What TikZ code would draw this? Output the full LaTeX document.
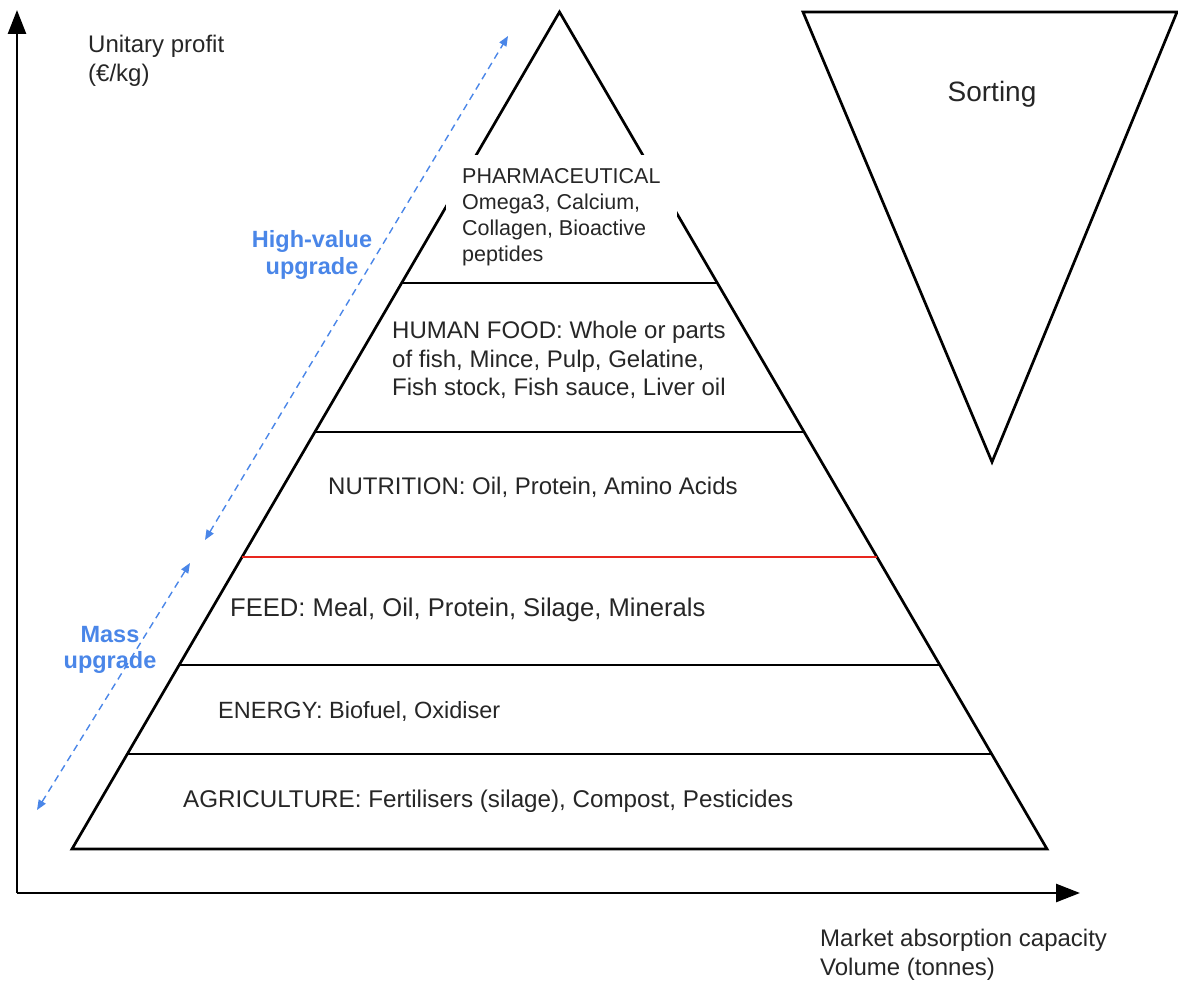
\documentclass[tikz,border=0pt]{standalone}
\usepackage{fontspec}
\setmainfont{Liberation Sans}
\usetikzlibrary{arrows.meta,calc}
\definecolor{upblue}{HTML}{4A86E8}
\definecolor{txt}{HTML}{262626}
\definecolor{cutred}{HTML}{E8261E}

\begin{document}
\begin{tikzpicture}[x=1pt,y=-1pt,
  edge/.style={line width=2.7pt, line join=miter},
  axis/.style={line width=2.7pt, -{Triangle[length=24pt,width=18pt]}},
  upgrade/.style={upblue, line width=1.4pt, dash pattern=on 7pt off 5pt,
    {Triangle[length=10pt,width=8pt]}-{Triangle[length=10pt,width=8pt]}},
  tier/.style={font=\fontsize{24}{28.5}\selectfont, text=txt, inner sep=0pt, anchor=base west},
  pharma/.style={font=\fontsize{21.5}{26}\selectfont, text=txt, fill=white, align=left,
    inner xsep=16pt, inner ysep=13pt, anchor=north west},
  axlabel/.style={font=\fontsize{24}{29}\selectfont, text=txt, inner sep=0pt, align=left, anchor=north west},
  updlabel/.style={font=\bfseries\fontsize{23.5}{26.5}\selectfont, text=upblue, inner sep=0pt, align=center},
]
\useasboundingbox (0,0) rectangle (1178,982);

% axes
\coordinate (origin) at (17,893);
\coordinate (ytip) at (17,10);
\coordinate (xtip) at (1080,893);
\draw[axis] (origin) -- (ytip);
\draw[axis] (origin) -- (xtip);

% pyramid outline
\coordinate (apex) at (559.5,12);
\coordinate (bl) at (72,849);
\coordinate (br) at (1047,849);
\draw[edge] (apex) -- (bl) -- (br) -- cycle;

% tier boundaries (fraction of the height from the apex)
\foreach \t/\nm in {0.3238/a, 0.5018/b, 0.6511/c, 0.7802/d, 0.8865/e}{
  \coordinate (L\nm) at ($(apex)!\t!(bl)$);
  \coordinate (R\nm) at ($(apex)!\t!(br)$);
}
\draw[edge] (La) -- (Ra);
\draw[edge] (Lb) -- (Rb);
\draw[cutred, line width=2.5pt] (Lc) -- (Rc);
\draw[edge] (Ld) -- (Rd);
\draw[edge] (Le) -- (Re);

% sorting funnel
\coordinate (s1) at (803,12);
\coordinate (s2) at (1177,12);
\coordinate (s3) at (992,462);
\draw[edge] (s1) -- (s2) -- (s3) -- cycle;
\node[font=\fontsize{28}{32}\selectfont, text=txt, inner sep=0pt, anchor=base] (sorting) at (992,102) {Sorting};

% upgrade arrows
\coordinate (hv1) at (205,540);
\coordinate (hv2) at (508,36);
\coordinate (mu1) at (37,810);
\coordinate (mu2) at (190,563);
\draw[upgrade] (hv1) -- (hv2);
\draw[upgrade] (mu1) -- (mu2);
\node[updlabel] (hvlab) at (312,255) {High-value\\upgrade};
\node[updlabel] (mulab) at (110,650) {Mass\\upgrade};

% tier texts
\node[pharma] (pharmatext) at (446,155) {PHARMACEUTICAL\\Omega3, Calcium,\\Collagen, Bioactive\\peptides};
\node[tier, anchor=north west, align=left] (food) at (392,321) {HUMAN FOOD: Whole or parts\\of fish, Mince, Pulp, Gelatine,\\Fish stock, Fish sauce, Liver oil};
\node[tier] (nutrition) at (328,494) {NUTRITION: Oil, Protein, Amino Acids};
\node[tier, font=\fontsize{25.6}{30}\selectfont] (feed) at (230,616) {FEED: Meal, Oil, Protein, Silage, Minerals};
\node[tier, font=\fontsize{23.5}{28}\selectfont] (energy) at (218,718) {ENERGY: Biofuel, Oxidiser};
\node[tier, font=\fontsize{24.2}{28}\selectfont] (agri) at (183,807) {AGRICULTURE: Fertilisers (silage), Compost, Pesticides};

% axis labels
\node[axlabel] (ylabel) at (88,35) {Unitary profit\\(€/kg)};
\node[axlabel] (xlabel) at (820,929) {Market absorption capacity\\Volume (tonnes)};
\end{tikzpicture}
\end{document}
